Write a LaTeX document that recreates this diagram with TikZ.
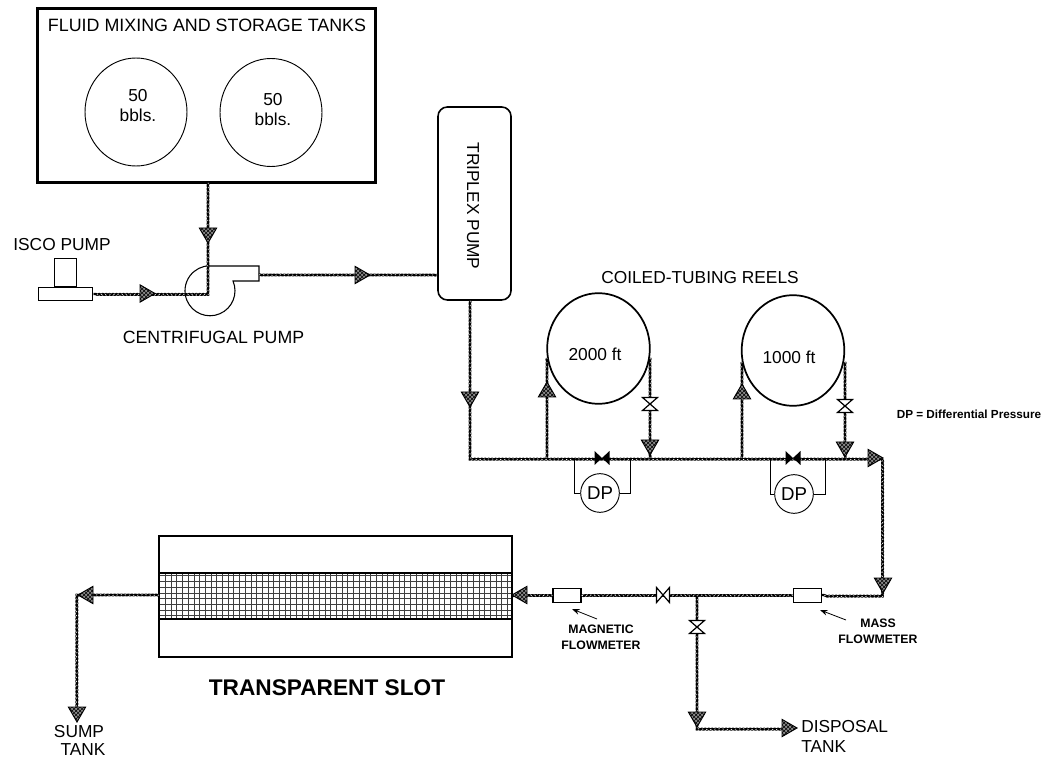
\documentclass[tikz,border=0pt]{standalone}
\usepackage{fontspec}
\setmainfont{Liberation Sans}
\usetikzlibrary{arrows.meta,patterns,shapes.geometric,decorations.pathmorphing}
\tikzset{
  pipe/.style={line width=1.8pt,line join=round,decorate,decoration={snake,amplitude=0.3pt,segment length=2.6pt},
    postaction={draw=white,line width=0.45pt,dash pattern=on 1pt off 2.4pt}},
  flowtip/.style={regular polygon,regular polygon sides=3,minimum size=15pt,inner sep=0pt,draw,line width=0.7pt,
    preaction={fill=black!45},pattern=crosshatch},
  box/.style={draw,line width=2.2pt,inner sep=0pt,outer sep=0pt},
  tankcirc/.style={draw,ellipse,line width=0.7pt,inner sep=0pt,minimum width=76.5pt,minimum height=81pt},
  reel/.style={draw,ellipse,line width=1.3pt,inner sep=0pt,minimum width=77pt,minimum height=83pt},
  meter/.style={draw,line width=0.8pt,fill=white,inner sep=0pt,minimum width=21pt,minimum height=10pt},
  dpcirc/.style={draw,circle,line width=0.7pt,fill=white,inner sep=0pt,minimum size=29pt,font=\fontsize{14}{14}\selectfont},
  lbl/.style={inner sep=0pt,align=center,font=\fontsize{13}{15}\selectfont},
  smalllbl/.style={inner sep=0pt,align=center,font=\fontsize{9.2}{12}\selectfont\bfseries},
  valve/.pic={\draw[fill=white,line width=0.9pt] (-7.5,-6.5)--(7.5,-6.5)--(-7.5,6.5)--(7.5,6.5)--cycle;},
  valvefull/.pic={\fill (-7,-7.5)--(7,-7.5)--(-7,7.5)--(7,7.5)--cycle;}
}
\begin{document}
\begin{tikzpicture}[x=0.75pt,y=-0.75pt]
  \useasboundingbox (0,0) rectangle (1047,759);
  % tanks
  \node[box,minimum width=254pt,minimum height=131pt] (mixbox) at (206.5,95.5) {};
  \node[lbl,font=\fontsize{13.4}{13}\selectfont] (mixlbl) at (207,25) {FLUID MIXING AND STORAGE TANKS};
  \node[tankcirc] (tankA) at (136,112) {};
  \node[tankcirc] (tankB) at (271,112.5) {};
  \node[lbl] (tankAlbl) at (138,106) {50\\bbls.};
  \node[lbl] (tankBlbl) at (273,110) {50\\bbls.};
  % pumps
  \node[draw,line width=0.8pt,fill=white,inner sep=0pt,minimum width=41pt,minimum height=10pt] (iscobase) at (65.5,294) {};
  \node[draw,line width=0.8pt,inner sep=0pt,minimum width=16pt,minimum height=21pt,anchor=south] (iscotop) at (iscobase.north) {};
  \node[lbl] (iscolbl) at (62,245) {ISCO PUMP};
  \draw[line width=0.8pt] (208,266)--(259,266)--(259,281)--(233,281) arc[start angle=-23,end angle=270,radius=25];
  \node[lbl,font=\fontsize{13.3}{15}\selectfont] (centlbl) at (213.5,337) {CENTRIFUGAL PUMP};
  \node[draw,line width=1.2pt,rounded corners=7pt,inner sep=0pt,minimum width=54.75pt,minimum height=144.75pt] (triplex) at (474.5,203.5) {};
  \node[lbl,rotate=-90] (triplbl) at (473,206) {TRIPLEX PUMP};
  % reels and meters
  \node[reel] (reelA) at (598.5,348.5) {};
  \node[reel] (reelB) at (793,350.5) {};
  \node[lbl] (reelAlbl) at (595,354) {2000 ft};
  \node[lbl] (reelBlbl) at (789,357) {1000 ft};
  \node[lbl] (reellbl) at (700,278) {COILED-TUBING REELS};
  \node[dpcirc] (dpA) at (600,493) {DP};
  \node[dpcirc] (dpB) at (794,494) {DP};
  \node[smalllbl,font=\fontsize{8.8}{12}\selectfont\bfseries] (dplbl) at (969,414) {DP = Differential Pressure};
  \coordinate (mA) at (470,458); \coordinate (mB) at (547,458); \coordinate (mC) at (650,458);
  \coordinate (mD) at (742,458); \coordinate (mE) at (845,458); \coordinate (mF) at (883,458);
  \coordinate (dpAl) at (574,458); \coordinate (dpAr) at (630,458);
  \coordinate (dpBl) at (770,458); \coordinate (dpBr) at (825,458);
  \coordinate (sA) at (883,595); \coordinate (sT) at (697,595); \coordinate (sC) at (697,728);
  \coordinate (lA) at (77,595);
  % slot
  \node[box,minimum width=264.75pt,minimum height=90.75pt] (slot) at (335.5,596.5) {};
  \node[inner sep=0pt,outer sep=0pt,minimum width=264.75pt,minimum height=34.5pt] (band) at (335.5,596) {};
  \draw[black!75,line width=0.4pt,step=4.275pt] (band.south west) grid (band.north east);
  \draw[box] (band.south west) rectangle (band.north east);
  \node[lbl,font=\fontsize{17}{17}\selectfont\bfseries] (slotlbl) at (327,688) {TRANSPARENT SLOT};
  \node[meter] (magm) at (567,595.5) {};
  \node[meter] (massm) at (807.5,595.5) {};
  % pipes
  \draw[pipe] (mixbox.south -| 208,0) -- (208,294) -- (iscobase.east |- 0,294);
  \draw[pipe] (259,275) -- (triplex.west |- 0,275);
  \draw[pipe] (triplex.south -| 470,0) -- (mA) -- (mF) -- (sA) -- (massm.east |- sA);
  \draw[pipe] (massm.west) -- (magm.east);
  \draw[pipe] (magm.west) -- (slot.east |- magm);
  \draw[pipe] (mB) -- (547,358);
  \draw[pipe] (650,358) -- (mC);
  \draw[pipe] (mD) -- (742,362);
  \draw[pipe] (845,362) -- (mE);
  \draw[pipe] (sT) -- (sC) -- (787,728);
  \draw[pipe] (slot.west |- lA) -- (lA) -- (77,712);
  \foreach \n/\x/\y/\r in {tipa/208/233/180,tipb/145/293.5/-90,tipc/360/275/-90,tipd/470/397/180,
    tipe/547/392/0,tipf/650/445/180,tipg/742/394/0,tiph/845/447/180,tipi/873/458/-90,
    tipj/883/583/180,tipk/522/595/90,tipl/697/717/180,tipm/787/728/-90,tipn/88/595/90,tipo/77/712/180}
    \node[flowtip,shape border rotate=\r] (\n) at (\x,\y) {};
  % valves
  \pic at (650,404) {valve};
  \pic at (845,406) {valve};
  \pic[rotate=90] at (663,595) {valve};
  \pic at (697,627) {valve};
  \pic[rotate=90] at (602,458) {valvefull};
  \pic[rotate=90] at (793,458) {valvefull};
  % DP taps
  \draw[line width=0.7pt] (dpAl) -- (dpAl |- dpA) -- (dpA.west);
  \draw[line width=0.7pt] (dpAr) -- (dpAr |- dpA) -- (dpA.east);
  \draw[line width=0.7pt] (dpBl) -- (dpBl |- dpB) -- (dpB.west);
  \draw[line width=0.7pt] (dpBr) -- (dpBr |- dpB) -- (dpB.east);
  % labels
  \node[smalllbl] (maglbl) at (601,637) {MAGNETIC\\FLOWMETER};
  \node[smalllbl] (masslbl) at (878,631) {MASS\\FLOWMETER};
  \node[lbl,anchor=north west,align=left] (displbl) at (801,720) {DISPOSAL\\TANK};
  \node[lbl] (sumplbl) at (79,732) {SUMP};
  \node[lbl] (sumptank) at (83,750) {TANK};
  \coordinate (magend) at (597,619); \coordinate (massend) at (846,620);
  \draw[-{Stealth},line width=0.6pt] (magend) -- (572,609);
  \draw[-{Stealth},line width=0.6pt] (massend) -- (820,610);
\end{tikzpicture}
\end{document}
